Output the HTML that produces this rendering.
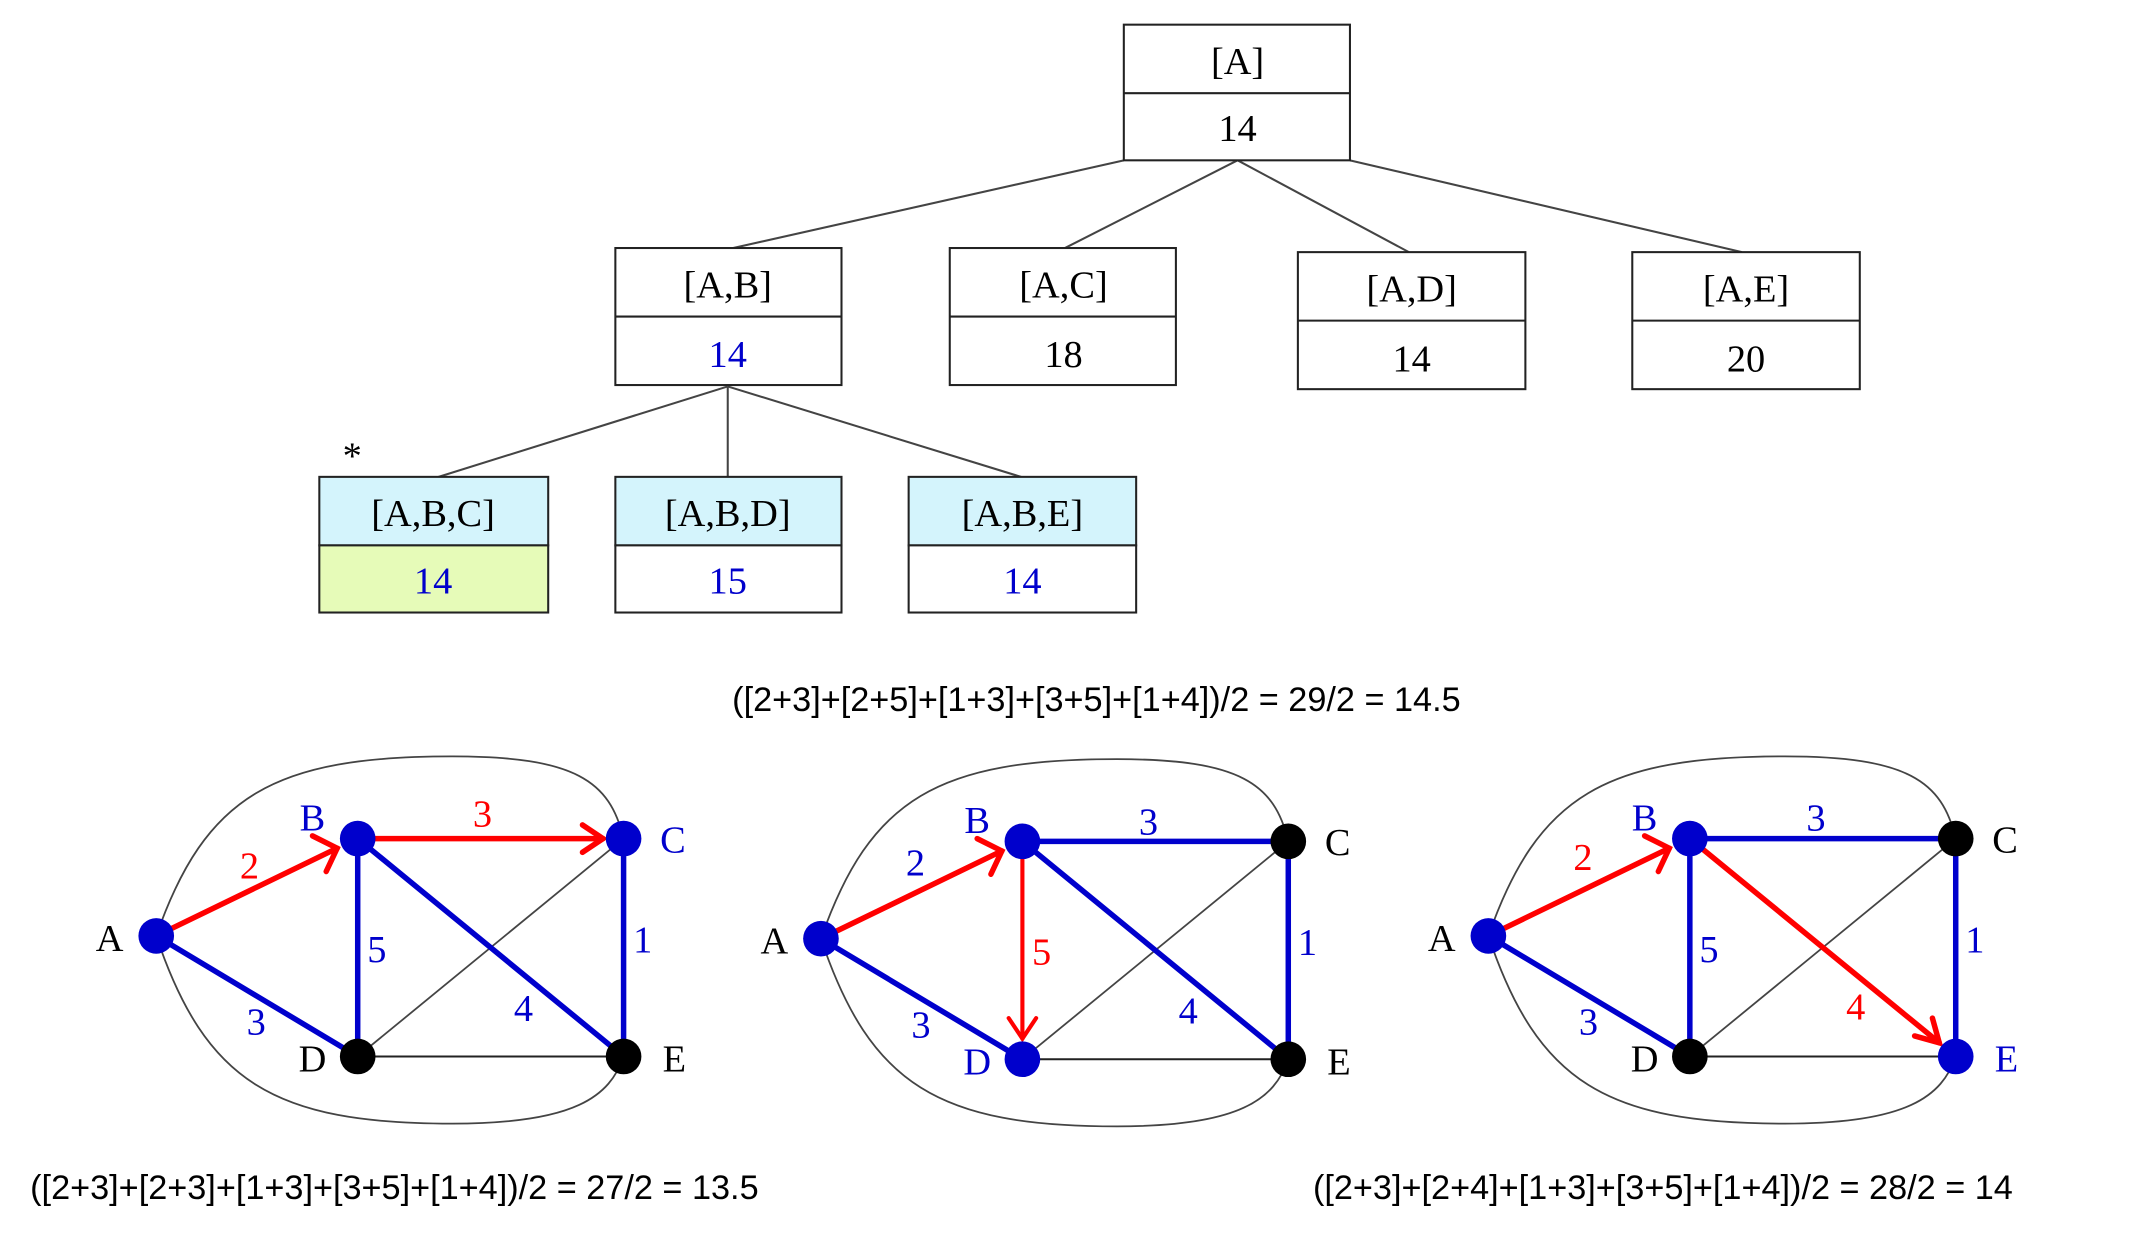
<!DOCTYPE html>
<html><head><meta charset="utf-8"><style>html,body{margin:0;padding:0;background:#fff;}svg{display:block}</style></head>
<body>
<svg width="2138" height="1236" viewBox="0 0 1560 902" preserveAspectRatio="none" xmlns="http://www.w3.org/2000/svg">
<defs>
<g id="base">
  <path d="M114,683 C150,580 200,552 330,552 C420,552 445,570 455,612" fill="none" stroke="#444" stroke-width="1.3"/>
  <path d="M114,683 C150,790 200,820 330,820 C420,820 445,800 455,771" fill="none" stroke="#444" stroke-width="1.3"/>
  <line x1="261" y1="771" x2="455" y2="612" stroke="#444" stroke-width="1.3"/>
  <line x1="261" y1="771" x2="455" y2="771" stroke="#222" stroke-width="1.5"/>
</g>
</defs>
<g font-family="Liberation Serif, serif" font-size="28" text-anchor="middle">
<g fill="none" stroke="#444" stroke-width="1.5">
<line x1="820" y1="117" x2="535" y2="181"/><line x1="903" y1="117" x2="777" y2="181"/>
<line x1="903" y1="117" x2="1028" y2="184"/><line x1="985" y1="117" x2="1271" y2="184"/>
<line x1="531" y1="282" x2="320" y2="348"/><line x1="531" y1="282" x2="531" y2="348"/><line x1="531" y1="282" x2="745" y2="348"/>
</g>
<g stroke="#222" stroke-width="1.5">
<rect x="820" y="18" width="165" height="99" fill="#fff"/><line x1="820" y1="68" x2="985" y2="68"/>
<rect x="449" y="181" width="165" height="100" fill="#fff"/><line x1="449" y1="231" x2="614" y2="231"/>
<rect x="693" y="181" width="165" height="100" fill="#fff"/><line x1="693" y1="231" x2="858" y2="231"/>
<rect x="947" y="184" width="166" height="100" fill="#fff"/><line x1="947" y1="234" x2="1113" y2="234"/>
<rect x="1191" y="184" width="166" height="100" fill="#fff"/><line x1="1191" y1="234" x2="1357" y2="234"/>
<rect x="233" y="348" width="167" height="50" fill="#d4f4fc"/><rect x="233" y="398" width="167" height="49" fill="#e6fbb8"/>
<rect x="449" y="348" width="165" height="50" fill="#d4f4fc"/><rect x="449" y="398" width="165" height="49" fill="#fff"/>
<rect x="663" y="348" width="166" height="50" fill="#d4f4fc"/><rect x="663" y="398" width="166" height="49" fill="#fff"/>
</g>
<text x="903" y="54">[A]</text><text x="903" y="103">14</text>
<text x="531" y="217">[A,B]</text><text x="531" y="268" fill="#0000cc">14</text>
<text x="776" y="217">[A,C]</text><text x="776" y="268">18</text>
<text x="1030" y="220">[A,D]</text><text x="1030" y="271">14</text>
<text x="1274" y="220">[A,E]</text><text x="1274" y="271">20</text>
<text x="316" y="384">[A,B,C]</text><text x="316" y="433" fill="#0000cc">14</text>
<text x="531" y="384">[A,B,D]</text><text x="531" y="433" fill="#0000cc">15</text>
<text x="746" y="384">[A,B,E]</text><text x="746" y="433" fill="#0000cc">14</text>
<text x="257" y="342">*</text>
</g>
<g font-family="Liberation Sans, sans-serif" font-size="25">
<text x="800" y="519" text-anchor="middle">([2+3]+[2+5]+[1+3]+[3+5]+[1+4])/2 = 29/2 = 14.5</text>
<text x="22" y="875">([2+3]+[2+3]+[1+3]+[3+5]+[1+4])/2 = 27/2 = 13.5</text>
<text x="958" y="875">([2+3]+[2+4]+[1+3]+[3+5]+[1+4])/2 = 28/2 = 14</text>
</g>
<!-- Graph 1 -->
<g>
<use href="#base"/>
<g stroke-width="4" stroke-linecap="round" fill="none">
<line x1="114" y1="683" x2="261" y2="771" stroke="#0000cc"/>
<line x1="261" y1="612" x2="261" y2="771" stroke="#0000cc"/>
<line x1="261" y1="612" x2="455" y2="771" stroke="#0000cc"/>
<line x1="455" y1="612" x2="455" y2="771" stroke="#0000cc"/>
<line x1="114" y1="683" x2="246" y2="619" stroke="#ff0000"/>
<polyline points="228,610 246,619 238,636" stroke="#ff0000"/>
<line x1="261" y1="612" x2="440" y2="612" stroke="#ff0000"/>
<polyline points="425,602 440,612 425,622" stroke="#ff0000"/>
</g>
<circle cx="114" cy="683" r="13" fill="#0000cc"/><circle cx="261" cy="612" r="13" fill="#0000cc"/><circle cx="455" cy="612" r="13" fill="#0000cc"/>
<circle cx="261" cy="771" r="13" fill="#000"/><circle cx="455" cy="771" r="13" fill="#000"/>
<g font-family="Liberation Serif, serif" font-size="28" text-anchor="middle">
<text x="80" y="694">A</text><text x="228" y="606" fill="#0000cc">B</text><text x="491" y="622" fill="#0000cc">C</text><text x="228" y="782">D</text><text x="492" y="782">E</text>
<text x="182" y="641" fill="#ff0000">2</text><text x="352" y="603" fill="#ff0000">3</text><text x="187" y="755" fill="#0000cc">3</text>
<text x="275" y="702" fill="#0000cc">5</text><text x="382" y="745" fill="#0000cc">4</text><text x="469" y="695" fill="#0000cc">1</text>
</g>
</g>
<!-- Graph 2 -->
<g transform="translate(485,2)">
<use href="#base"/>
<g stroke-width="4" stroke-linecap="round" fill="none">
<line x1="114" y1="683" x2="261" y2="771" stroke="#0000cc"/>
<line x1="261" y1="612" x2="455" y2="612" stroke="#0000cc"/>
<line x1="261" y1="612" x2="455" y2="771" stroke="#0000cc"/>
<line x1="455" y1="612" x2="455" y2="771" stroke="#0000cc"/>
<line x1="114" y1="683" x2="246" y2="619" stroke="#ff0000"/>
<polyline points="228,610 246,619 238,636" stroke="#ff0000"/>
<line x1="261" y1="612" x2="261" y2="756" stroke="#ff0000" stroke-width="3"/>
<polyline points="251,741 261,756 271,741" stroke="#ff0000" stroke-width="3"/>
</g>
<circle cx="114" cy="683" r="13" fill="#0000cc"/><circle cx="261" cy="612" r="13" fill="#0000cc"/><circle cx="455" cy="612" r="13" fill="#000"/>
<circle cx="261" cy="771" r="13" fill="#0000cc"/><circle cx="455" cy="771" r="13" fill="#000"/>
<g font-family="Liberation Serif, serif" font-size="28" text-anchor="middle">
<text x="80" y="694">A</text><text x="228" y="606" fill="#0000cc">B</text><text x="491" y="622">C</text><text x="228" y="782" fill="#0000cc">D</text><text x="492" y="782">E</text>
<text x="183" y="637" fill="#0000cc">2</text><text x="353" y="607" fill="#0000cc">3</text><text x="187" y="755" fill="#0000cc">3</text>
<text x="275" y="702" fill="#ff0000">5</text><text x="382" y="745" fill="#0000cc">4</text><text x="469" y="695" fill="#0000cc">1</text>
</g>
</g>
<!-- Graph 3 -->
<g transform="translate(972,0)">
<use href="#base"/>
<g stroke-width="4" stroke-linecap="round" fill="none">
<line x1="114" y1="683" x2="261" y2="771" stroke="#0000cc"/>
<line x1="261" y1="612" x2="455" y2="612" stroke="#0000cc"/>
<line x1="261" y1="612" x2="261" y2="771" stroke="#0000cc"/>
<line x1="455" y1="612" x2="455" y2="771" stroke="#0000cc"/>
<line x1="114" y1="683" x2="246" y2="619" stroke="#ff0000"/>
<polyline points="228,610 246,619 238,636" stroke="#ff0000"/>
<line x1="261" y1="612" x2="443" y2="761" stroke="#ff0000"/>
<polyline points="425,756 443,761 438,743" stroke="#ff0000"/>
</g>
<circle cx="114" cy="683" r="13" fill="#0000cc"/><circle cx="261" cy="612" r="13" fill="#0000cc"/><circle cx="455" cy="612" r="13" fill="#000"/>
<circle cx="261" cy="771" r="13" fill="#000"/><circle cx="455" cy="771" r="13" fill="#0000cc"/>
<g font-family="Liberation Serif, serif" font-size="28" text-anchor="middle">
<text x="80" y="694">A</text><text x="228" y="606" fill="#0000cc">B</text><text x="491" y="622">C</text><text x="228" y="782">D</text><text x="492" y="782" fill="#0000cc">E</text>
<text x="183" y="635" fill="#ff0000">2</text><text x="353" y="606" fill="#0000cc">3</text><text x="187" y="755" fill="#0000cc">3</text>
<text x="275" y="702" fill="#0000cc">5</text><text x="382" y="744" fill="#ff0000">4</text><text x="469" y="695" fill="#0000cc">1</text>
</g>
</g>
</svg>
</body></html>
